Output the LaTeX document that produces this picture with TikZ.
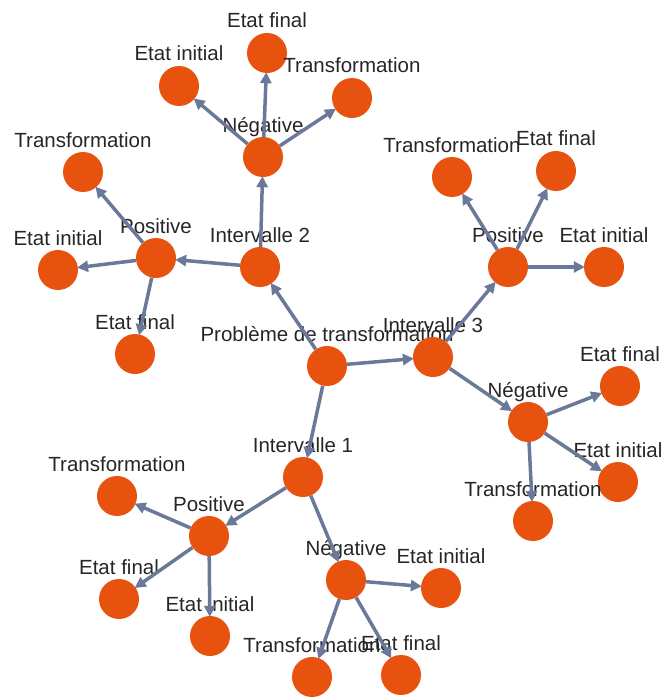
\documentclass[tikz,border=0pt]{standalone}
\usepackage{fontspec}
\setmainfont{Liberation Sans}
\usetikzlibrary{arrows.meta}
\definecolor{dotc}{HTML}{E8520F}
\definecolor{edgec}{HTML}{6A7899}
\newcommand\vtx[4]{%
  \node[dot] (#1) at (#2,#3) {};
  \node[lbl] (#1l) at (#2,#3-25) {#4};}
\begin{document}
\begin{tikzpicture}[x=1pt,y=-1pt,
  dot/.style={circle,fill=dotc,draw=none,minimum size=40pt,inner sep=0pt},
  lbl/.style={anchor=base,inner sep=0pt,font=\fontsize{20.5}{24}\selectfont,text=black!85},
  edge/.style={draw=edgec,line width=3.5pt,-{Triangle[length=11pt,width=11pt]},shorten >=-1pt}]
\useasboundingbox (0,0) rectangle (664,698);
\vtx{P}{327}{366}{Problème de transformation}
\vtx{I1}{303}{477}{Intervalle 1}
\vtx{I2}{260}{267}{Intervalle 2}
\vtx{I3}{433}{357}{Intervalle 3}
\vtx{P2}{156}{258}{Positive}
\vtx{N2}{263}{157}{Négative}
\vtx{N2i}{179}{86}{Etat initial}
\vtx{N2f}{267}{53}{Etat final}
\vtx{N2t}{352}{98}{Transformation}
\vtx{P2t}{83}{172}{Transformation}
\vtx{P2i}{58}{270}{Etat initial}
\vtx{P2f}{135}{354}{Etat final}
\vtx{P3}{508}{267}{Positive}
\vtx{P3t}{452}{177}{Transformation}
\vtx{P3f}{556}{171}{Etat final}
\vtx{P3i}{604}{267}{Etat initial}
\vtx{N3}{528}{422}{Négative}
\vtx{N3f}{620}{386}{Etat final}
\vtx{N3i}{618}{482}{Etat initial}
\vtx{N3t}{533}{521}{Transformation}
\vtx{P1}{209}{536}{Positive}
\vtx{P1t}{117}{496}{Transformation}
\vtx{P1f}{119}{599}{Etat final}
\vtx{P1i}{210}{636}{Etat initial}
\vtx{N1}{346}{580}{Négative}
\vtx{N1i}{441}{588}{Etat initial}
\vtx{N1t}{312}{677}{Transformation}
\vtx{N1f}{401}{675}{Etat final}
\foreach \a/\b in {P/I1,P/I2,P/I3,
  I2/P2,I2/N2,N2/N2i,N2/N2f,N2/N2t,P2/P2t,P2/P2i,P2/P2f,
  I3/P3,I3/N3,P3/P3t,P3/P3f,P3/P3i,N3/N3f,N3/N3i,N3/N3t,
  I1/P1,I1/N1,P1/P1t,P1/P1f,P1/P1i,N1/N1i,N1/N1t,N1/N1f}
  \draw[edge] (\a) -- (\b);
\end{tikzpicture}
\end{document}
